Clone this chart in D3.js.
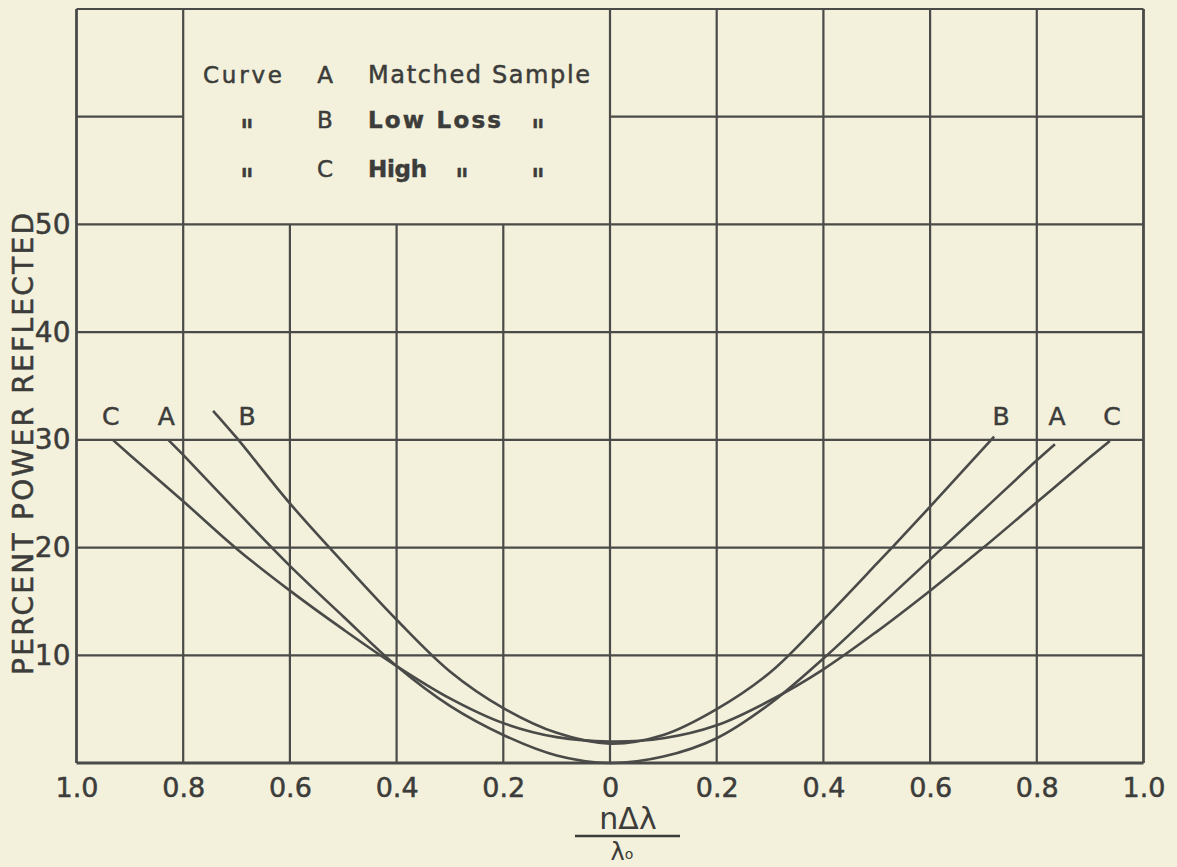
<!DOCTYPE html>
<html lang="en">
<head>
<meta charset="UTF-8">
<title>Percent power reflected</title>
<script src="https://cdnjs.cloudflare.com/ajax/libs/d3/7.8.5/d3.min.js"></script>
<style>
  body { margin: 0; background: #f3f1dc; }
  svg { display: block; }
</style>
</head>
<body>
<div id="chart"></div>
<script>
/* global d3 */

// x is n*dlambda/lambda0 (left half drawn as negative), y is percent power reflected
var curveA = [[-0.828,30],[-0.8,28.6],[-0.7,23.4],[-0.6,18.3],[-0.5,13.6],[-0.4,9.0],[-0.3,5.3],[-0.2,2.6],
              [-0.1,0.7],[0,0],[0.1,0.6],[0.2,2.3],[0.3,5.5],[0.4,9.7],[0.5,14.3],[0.6,18.9],[0.7,23.5],
              [0.8,28.1],[0.834,29.6]];
var curveB = [[-0.744,32.7],[-0.7,30.2],[-0.6,24.1],[-0.5,18.6],[-0.4,13.3],[-0.3,8.5],[-0.2,5.1],[-0.1,2.8],
              [0,1.8],[0.1,2.6],[0.2,5.0],[0.3,8.4],[0.4,13.3],[0.5,18.5],[0.6,23.8],[0.72,30.3]];
var curveC = [[-0.932,30],[-0.9,28.6],[-0.8,24.3],[-0.7,19.9],[-0.6,16.0],[-0.5,12.4],[-0.4,9.0],[-0.3,6.0],
              [-0.2,3.7],[-0.1,2.4],[0,2.0],[0.1,2.3],[0.2,3.5],[0.3,5.8],[0.4,8.7],[0.5,12.2],[0.6,16.0],
              [0.7,20.0],[0.8,24.2],[0.9,28.4],[0.937,29.9]];

var xTicks = [-1, -0.8, -0.6, -0.4, -0.2, 0, 0.2, 0.4, 0.6, 0.8, 1];
var xTickLabels = ["1.0", "0.8", "0.6", "0.4", "0.2", "0", "0.2", "0.4", "0.6", "0.8", "1.0"];
var yTicks = [10, 20, 30, 40, 50];
var yGrid = [10, 20, 30, 40, 50, 60, 70];

var legendRows = [
    ["Curve", "A", "Matched Sample"],
    ["\"", "B", "Low Loss"],
    ["\"", "C", "High"]
];

var ink = "#4a4a48";
var textInk = "#3c3c3a";
var font = "'DejaVu Sans', sans-serif";

var w = 1177, h = 867;
var x = d3.scaleLinear().domain([-1, 1]).range([76.5, 1143.5]);
var y = d3.scaleLinear().domain([0, 70]).range([763, 9]);

var svg = d3.select("#chart").append("svg")
    .attr("width", w)
    .attr("height", h);

svg.append("rect").attr("width", w).attr("height", h).attr("fill", "#f3f1dc");

var grid = svg.append("g")
    .attr("stroke", ink)
    .attr("stroke-width", 2.2)
    .attr("fill", "none");

// vertical lines: the ones inside the legend box stop at 50
grid.selectAll("line.v")
    .data(xTicks)
    .enter().append("line")
    .attr("x1", function(d) { return x(d); })
    .attr("x2", function(d) { return x(d); })
    .attr("y1", y(0))
    .attr("y2", function(d) { return (d > -0.75 && d < -0.05) ? y(50) : y(70); })
    .attr("stroke-width", function(d) { return Math.abs(d) === 1 ? 2.8 : 2.2; });

// horizontal lines: 60 is broken by the legend box
grid.selectAll("line.h")
    .data(yGrid)
    .enter().append("line")
    .attr("x1", x(-1))
    .attr("x2", function(d) { return d === 60 ? x(-0.8) : x(1); })
    .attr("y1", function(d) { return y(d); })
    .attr("y2", function(d) { return y(d); });
grid.append("line")
    .attr("x1", x(0)).attr("x2", x(1))
    .attr("y1", y(60)).attr("y2", y(60));
grid.append("line")
    .attr("x1", x(-1)).attr("x2", x(1))
    .attr("y1", y(0)).attr("y2", y(0))
    .attr("stroke-width", 2.8);

// curves
var line = d3.line()
    .x(function(d) { return x(d[0]); })
    .y(function(d) { return y(d[1]); })
    .curve(d3.curveCatmullRom.alpha(0.5));

var curves = [
    { name: "A", data: curveA },
    { name: "B", data: curveB },
    { name: "C", data: curveC }
];

svg.selectAll("path.curve")
    .data(curves)
    .enter().append("path")
    .attr("class", "curve")
    .attr("d", function(d) { return line(d.data); })
    .attr("fill", "none")
    .attr("stroke", ink)
    .attr("stroke-width", 2.6);

// curve letters above both ends
var endLabels = [];
curves.forEach(function(c) {
    var first = c.data[0], last = c.data[c.data.length - 1];
    endLabels.push({ name: c.name, px: x(first[0]) + (c.name === "B" ? 34 : -2) });
    endLabels.push({ name: c.name, px: x(last[0]) + (c.name === "B" ? 7 : 2) });
});
svg.selectAll("text.endlabel")
    .data(endLabels)
    .enter().append("text")
    .attr("x", function(d) { return d.px; })
    .attr("y", y(30) - 15)
    .attr("text-anchor", "middle")
    .attr("font-family", font)
    .attr("font-size", 25)
    .attr("fill", textInk)
    .attr("stroke", textInk)
    .attr("stroke-width", 0.5)
    .text(function(d) { return d.name; });

// axes (labels only, grid is drawn above)
var xAxis = d3.axisBottom(x)
    .tickValues(xTicks)
    .tickFormat(function(d, i) { return xTickLabels[i]; })
    .tickSize(0)
    .tickPadding(15);
var gx = svg.append("g").attr("transform", "translate(0," + y(0) + ")").call(xAxis);
gx.select(".domain").remove();
gx.selectAll("text")
    .attr("font-family", font)
    .attr("font-size", 27)
    .attr("fill", textInk)
    .attr("stroke", textInk)
    .attr("stroke-width", 0.5);

var yAxis = d3.axisLeft(y)
    .tickValues(yTicks)
    .tickSize(0)
    .tickPadding(6);
var gy = svg.append("g").attr("transform", "translate(" + x(-1) + ",0)").call(yAxis);
gy.select(".domain").remove();
gy.selectAll("text")
    .attr("font-family", font)
    .attr("font-size", 28)
    .attr("fill", textInk)
    .attr("stroke", textInk)
    .attr("stroke-width", 0.5);

// y title
svg.append("text")
    .attr("transform", "translate(33," + 444 + ") rotate(-90)")
    .attr("text-anchor", "middle")
    .attr("font-family", font)
    .attr("font-size", 28)
    .attr("fill", textInk)
    .attr("stroke", textInk)
    .attr("stroke-width", 0.5)
    .attr("textLength", 462)
    .attr("lengthAdjust", "spacing")
    .text("PERCENT POWER REFLECTED");

// x title: n delta lambda over lambda0
var xt = svg.append("g").attr("fill", textInk).attr("font-family", font);
xt.append("text")
    .attr("x", 628).attr("y", 829)
    .attr("text-anchor", "middle")
    .attr("font-size", 30)
    .text("n\u0394\u03bb");
xt.append("line")
    .attr("x1", 575).attr("x2", 680)
    .attr("y1", 836).attr("y2", 836)
    .attr("stroke", textInk).attr("stroke-width", 2.4);
var lam0 = xt.append("text")
    .attr("x", 622).attr("y", 860)
    .attr("text-anchor", "middle")
    .attr("font-size", 24);
lam0.append("tspan").text("\u03bb");
lam0.append("tspan").attr("font-size", 14).attr("dy", -1).text("o");

// legend inside the box
var legend = svg.append("g")
    .attr("font-family", font)
    .attr("font-size", 23)
    .attr("fill", textInk)
    .attr("stroke", textInk)
    .attr("stroke-width", 0.5);
var rowBase = [83, 128, 177];
legendRows.forEach(function(r, i) {
    if (r[0] === "\"") {
        legend.append("text").attr("x", 247).attr("y", rowBase[i])
            .attr("text-anchor", "middle").attr("font-size", 16).attr("font-weight", "bold")
            .text("\u0131\u0131");
    } else {
        legend.append("text").attr("x", 203).attr("y", rowBase[i])
            .attr("textLength", 79).attr("lengthAdjust", "spacing").text(r[0]);
    }
    legend.append("text").attr("x", 325).attr("y", rowBase[i])
        .attr("text-anchor", "middle").text(r[1]);
    var widths = [222, 133, 59];
    legend.append("text").attr("x", 368).attr("y", rowBase[i])
        .attr("textLength", widths[i]).attr("lengthAdjust", "spacing")
        .attr("font-size", i === 0 ? 24 : 23)
        .attr("font-weight", i === 0 ? "normal" : "bold")
        .text(r[2]);
});
// ditto marks after the descriptions
[[538, 128], [462, 177], [538, 177]].forEach(function(p) {
    legend.append("text").attr("x", p[0]).attr("y", p[1])
        .attr("text-anchor", "middle").attr("font-size", 16).attr("font-weight", "bold")
        .text("\u0131\u0131");
});
</script>
</body>
</html>
